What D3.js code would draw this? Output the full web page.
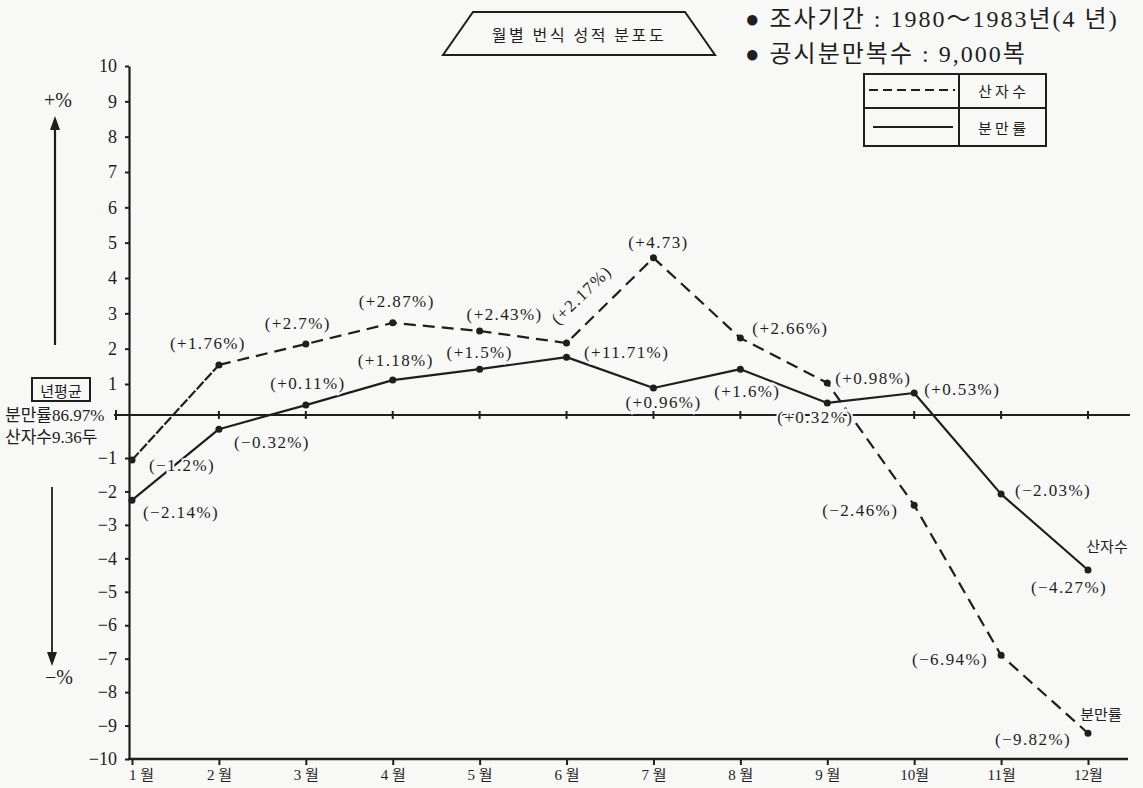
<!DOCTYPE html>
<html><head><meta charset="utf-8">
<script src="https://cdn.jsdelivr.net/npm/d3@7"></script>
<style>
html,body{margin:0;padding:0;background:#f8f8f7;}
svg{display:block;}
</style></head>
<body>
<svg id="chart" width="1143" height="788"></svg>
<script>
// ---------- data ----------
const months = ["1 월","2 월","3 월","4 월","5 월","6 월","7 월","8 월","9 월","10월","11월","12월"];
const monthIndex = [1,2,3,4,5,6,7,8,9,10,11,12];
// 산자수 (dashed)
const litterSize = [-1.06, 1.54, 2.13, 2.73, 2.50, 2.16, 4.57, 2.30, 1.03, -2.41, -6.90, -9.23];
const litterLabels = ["(−1.2%)","(+1.76%)","(+2.7%)","(+2.87%)","(+2.43%)","(+2.17%)","(+4.73)","(+2.66%)","(+0.98%)","(−2.46%)","(−6.94%)","(−9.82%)"];
// 분만률 (solid)
const calvingRate = [-2.26, -0.33, 0.32, 1.11, 1.42, 1.76, 0.87, 1.42, 0.39, 0.71, -2.08, -4.35];
const calvingLabels = ["(−2.14%)","(−0.32%)","(+0.11%)","(+1.18%)","(+1.5%)","(+11.71%)","(+0.96%)","(+1.6%)","(+0.32%)","(+0.53%)","(−2.03%)","(−4.27%)"];
const yTicks = [10,9,8,7,6,5,4,3,2,1,-1,-2,-3,-4,-5,-6,-7,-8,-9,-10];
const title = "월별 번식 성적 분포도";
const infoLines = ["● 조사기간 : 1980～1983년(4 년)", "● 공시분만복수 : 9,000복"];
const legendNames = ["산 자 수", "분 만 률"];
const avgTitle = "년평균";
const avgLines = ["분만률86.97%", "산자수9.36두"];

// ---------- layout (label offsets, not data) ----------
const litterOffsets = [[50,5],[-11,-21],[-8,-21],[4,-21],[25,-17],[15,-48],[5,-15],[50,-10],[46,-4],[-54,5],[-51,4],[-55,6]];
const calvingOffsets = [[49,12],[53,13],[2,-22],[3,-20],[0,-17],[60,-5],[10,14],[7,22],[-12,15],[48,-3],[52,-4],[-19,17]];

const INK = "#1e1e1e";
const BG = "#f8f8f7";
const SERIF = "'Liberation Serif','Noto Sans CJK KR',serif";
const KR = "'Noto Sans CJK KR',sans-serif";

const svg = d3.select("#chart");
svg.append("rect").attr("width",1143).attr("height",788).attr("fill",BG);

const x = d3.scaleLinear().domain([1,12]).range([132,1088]);
const y = d3.scaleLinear().domain([-10,-1,0,1,10]).range([759,458,415,384,66]);

// ---------- y axis ----------
const yAxis = svg.append("g").attr("transform","translate(129,0)")
  .call(d3.axisLeft(y).tickValues(yTicks).tickSize(4).tickSizeOuter(0).tickPadding(8)
    .tickFormat(d => d < 0 ? "−" + Math.abs(d) : String(d)));
yAxis.attr("font-family",null);
yAxis.select(".domain").attr("stroke",INK).attr("stroke-width",2.2);
yAxis.selectAll(".tick line").attr("stroke",INK).attr("stroke-width",2);
yAxis.selectAll(".tick text").attr("fill",INK).style("font-family",SERIF).style("font-size","18px");

// ---------- x axis ----------
const xAxis = svg.append("g").attr("transform",`translate(0,${y(-10)})`)
  .call(d3.axisBottom(x).tickValues(monthIndex).tickSize(6).tickSizeOuter(0).tickPadding(4)
    .tickFormat((d,i) => months[i]));
xAxis.attr("font-family",null);
xAxis.select(".domain").remove();
xAxis.selectAll(".tick line").attr("stroke",INK).attr("stroke-width",2);
xAxis.selectAll(".tick text").attr("fill",INK).style("font-family",SERIF).style("font-size","15px")
  .attr("dx",(d,i)=> i===0 ? 9 : 0);
svg.append("line").attr("x1",128).attr("x2",1128).attr("y1",y(-10)).attr("y2",y(-10))
  .attr("stroke",INK).attr("stroke-width",2.4);

// ---------- zero (average) line ----------
svg.append("line").attr("x1",114).attr("x2",1130).attr("y1",y(0)).attr("y2",y(0))
  .attr("stroke",INK).attr("stroke-width",2);
svg.append("line").attr("x1",116).attr("x2",116).attr("y1",y(0)-5).attr("y2",y(0)+5)
  .attr("stroke",INK).attr("stroke-width",2);
svg.append("g").selectAll("line").data(monthIndex.slice(1)).join("line")
  .attr("x1",d=>x(d)).attr("x2",d=>x(d)).attr("y1",y(0)-4).attr("y2",y(0)+4)
  .attr("stroke",INK).attr("stroke-width",2);

// ---------- series ----------
const line = d3.line().x(d=>x(d.m)).y(d=>y(d.v));
const litterData = monthIndex.map((m,i)=>({m, v:litterSize[i], label:litterLabels[i], off:litterOffsets[i]}));
const calvingData = monthIndex.map((m,i)=>({m, v:calvingRate[i], label:calvingLabels[i], off:calvingOffsets[i]}));

svg.append("path").datum(calvingData).attr("d",line).attr("fill","none")
  .attr("stroke",INK).attr("stroke-width",2.2).attr("stroke-linejoin","round");
svg.append("path").datum(litterData.slice(0,2)).attr("d",line).attr("fill","none")
  .attr("stroke",INK).attr("stroke-width",2.2).attr("stroke-dasharray","10,2");
svg.append("path").datum(litterData.slice(1)).attr("d",line).attr("fill","none")
  .attr("stroke",INK).attr("stroke-width",2.2).attr("stroke-dasharray","12,7");

// ---------- labels (with halo to break lines like the original) ----------
function addLabels(data){
  svg.append("g").selectAll("text").data(data).join("text")
    .attr("transform",(d,i)=>{
      const tx = x(d.m)+d.off[0], ty = y(d.v)+d.off[1];
      return (d.label==="(+2.17%)") ? `translate(${tx},${ty}) rotate(-44)` : `translate(${tx},${ty})`;
    })
    .attr("text-anchor","middle").attr("dominant-baseline","central")
    .style("font-family",SERIF).style("font-size","17px").style("letter-spacing","1.4px")
    .attr("fill",INK).attr("stroke",BG).attr("stroke-width",4).attr("paint-order","stroke")
    .text(d=>d.label);
}
addLabels(litterData);
addLabels(calvingData);

// points
[litterData, calvingData].forEach(data=>{
  svg.append("g").selectAll("circle").data(data).join("circle")
    .attr("cx",d=>x(d.m)).attr("cy",d=>y(d.v)).attr("r",3.5).attr("fill",INK);
});

// series end names (as in original)
const endNames = [{t:"분만률", d:litterData[11], dx:13, dy:-20},{t:"산자수", d:calvingData[11], dx:19, dy:-25}];
svg.append("g").selectAll("text").data(endNames).join("text")
  .attr("x",e=>x(e.d.m)+e.dx).attr("y",e=>y(e.d.v)+e.dy)
  .attr("text-anchor","middle").attr("dominant-baseline","central")
  .style("font-family",KR).style("font-size","15px").attr("fill",INK).text(e=>e.t);

// ---------- left annotations ----------
svg.append("text").attr("x",58).attr("y",100).attr("text-anchor","middle").attr("dominant-baseline","central")
  .style("font-family",SERIF).style("font-size","20px").attr("fill",INK).text("+%");
svg.append("text").attr("x",59).attr("y",677).attr("text-anchor","middle").attr("dominant-baseline","central")
  .style("font-family",SERIF).style("font-size","20px").attr("fill",INK).text("−%");
svg.append("line").attr("x1",55).attr("x2",55).attr("y1",345).attr("y2",128).attr("stroke",INK).attr("stroke-width",2.2);
svg.append("path").attr("d","M55,116 L50,130 L60,130 Z").attr("fill",INK);
svg.append("line").attr("x1",52).attr("x2",52).attr("y1",487).attr("y2",655).attr("stroke",INK).attr("stroke-width",1.8);
svg.append("path").attr("d","M52,666 L47,652 L57,652 Z").attr("fill",INK);

svg.append("rect").attr("x",32).attr("y",378).attr("width",58).attr("height",23)
  .attr("fill","none").attr("stroke",INK).attr("stroke-width",2);
svg.append("text").attr("x",61).attr("y",390).attr("text-anchor","middle").attr("dominant-baseline","central")
  .style("font-family",KR).style("font-size","15px").attr("fill",INK).text(avgTitle);
svg.append("g").selectAll("text").data(avgLines).join("text")
  .attr("x",5).attr("y",(d,i)=>415+i*22).attr("dominant-baseline","central")
  .style("font-family",SERIF).style("font-size","17px").attr("fill",INK).text(d=>d);

// ---------- title ----------
svg.append("path").attr("d","M473,12 L685,12 L715,55 L443,55 Z")
  .attr("fill","none").attr("stroke",INK).attr("stroke-width",2);
svg.append("text").attr("x",579).attr("y",34).attr("text-anchor","middle").attr("dominant-baseline","central")
  .style("font-family",KR).style("font-size","16px").style("letter-spacing","2.6px").attr("fill",INK).text(title);

// ---------- info ----------
svg.append("g").selectAll("text").data(infoLines).join("text")
  .attr("x",745).attr("y",(d,i)=>19+i*35).attr("dominant-baseline","central")
  .style("font-family",SERIF).style("font-size","24px").style("letter-spacing","2px").attr("fill",INK).text(d=>d);

// ---------- legend ----------
const lg = svg.append("g");
lg.append("rect").attr("x",864).attr("y",74).attr("width",182).attr("height",72)
  .attr("fill","none").attr("stroke",INK).attr("stroke-width",2);
lg.append("line").attr("x1",864).attr("x2",1046).attr("y1",108).attr("y2",108).attr("stroke",INK).attr("stroke-width",2);
lg.append("line").attr("x1",959).attr("x2",959).attr("y1",74).attr("y2",146).attr("stroke",INK).attr("stroke-width",2);
lg.append("line").attr("x1",869).attr("x2",955).attr("y1",90).attr("y2",90).attr("stroke",INK).attr("stroke-width",2).attr("stroke-dasharray","9,5");
lg.append("line").attr("x1",873).attr("x2",953).attr("y1",127).attr("y2",127).attr("stroke",INK).attr("stroke-width",2);
lg.append("g").selectAll("text").data(legendNames).join("text")
  .attr("x",1002).attr("y",(d,i)=>90+i*37).attr("text-anchor","middle").attr("dominant-baseline","central")
  .style("font-family",KR).style("font-size","15px").attr("fill",INK).text(d=>d);
</script>
</body></html>
